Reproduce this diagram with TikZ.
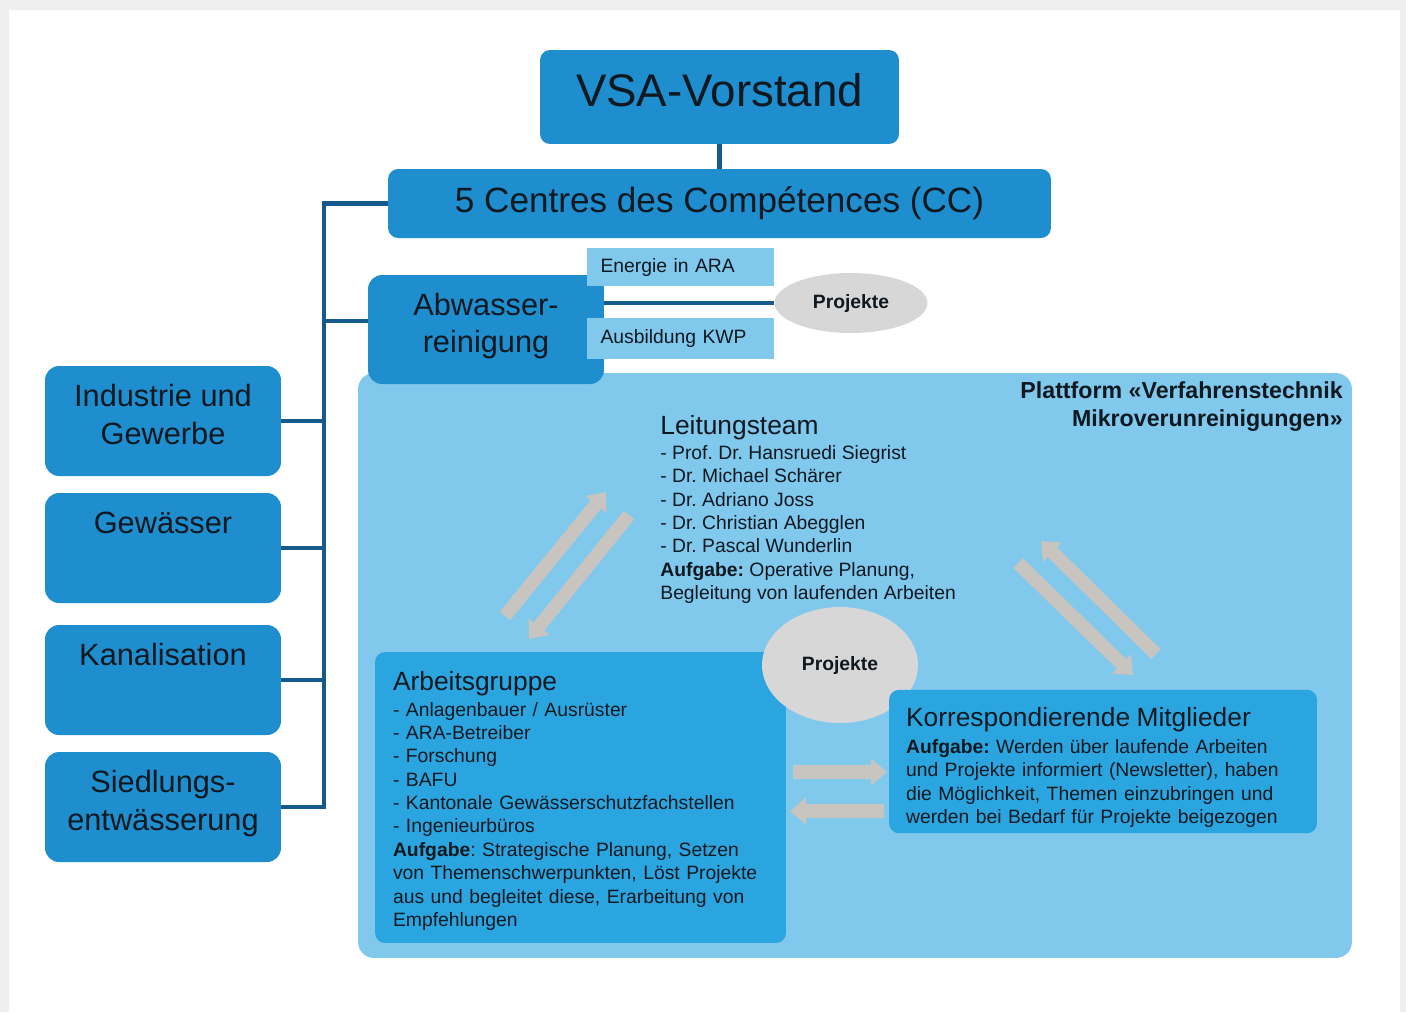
\documentclass[tikz,border=0pt]{standalone}
\usepackage{fontspec}
\setmainfont{Liberation Sans}
\usepackage{xcolor}
\usetikzlibrary{arrows.meta,positioning,shapes.geometric}
\frenchspacing

\definecolor{vsablue}{RGB}{31,142,207}
\definecolor{teamblue}{RGB}{42,165,223}
\definecolor{platblue}{RGB}{128,200,236}
\definecolor{linkblue}{RGB}{22,90,140}
\definecolor{projgray}{RGB}{215,215,215}
\definecolor{flowgray}{RGB}{200,196,192}
\definecolor{ink}{RGB}{16,24,32}
\definecolor{framegray}{RGB}{239,239,239}
\newcommand{\fsz}[2]{\fontsize{#1}{#2}\selectfont}

\begin{document}
\begin{tikzpicture}[
    x=0.02cm, y=-0.02cm,
    every node/.style={text=ink},
    topbox/.style={
      fill=vsablue, rounded corners=0.2cm, align=center
    },
    unit/.style={
      fill=vsablue, rounded corners=0.28cm, align=center,
      minimum width=4.72cm, minimum height=2.2cm, text depth=0.27cm,
      font=\fsz{17.5}{21.5}
    },
    subbox/.style={
      fill=platblue, minimum width=3.74cm, text width=3.2cm,
      inner xsep=0.27cm, align=left, font=\fsz{11}{13.3}
    },
    teambox/.style={
      fill=teamblue, rounded corners=0.2cm, align=left,
      font=\fsz{11}{13.3}
    },
    proj/.style={ellipse, fill=projgray, inner sep=0pt, font=\bfseries\fsz{11}{13.3}},
    link/.style={draw=linkblue, line width=2.8pt},
    flow/.style={draw=flowgray, line width=0.27cm,
      -{Triangle[width=0.52cm,length=0.32cm]}}
  ]
    % page
    \fill[framegray] (0,0) rectangle (1406,1012);
    \fill[white] (9,10) rectangle (1400,1012);

    \node[topbox, minimum width=7.18cm, minimum height=1.88cm,
      font=\fsz{26}{30}, text depth=0.28cm] (vsa) at (719.5,97) {VSA-Vorstand};
    \node[topbox, minimum width=13.26cm, minimum height=1.38cm,
      font=\fsz{20}{24}] (cc) at (719.5,203.5) {5 Centres des Compétences (CC)};

    \node[unit] (ind) at (163,421) {Industrie und\\Gewerbe};
    \node[unit] (gew) at (163,548) {Gewässer\\\phantom{G}};
    \node[unit] (kan) at (163,680) {Kanalisation\\\phantom{K}};
    \node[unit] (sied) at (163,807) {Siedlungs-\\entwässerung};

    % platform
    \node[fill=platblue, rounded corners=0.32cm, minimum width=19.88cm,
      minimum height=11.7cm, inner sep=0pt] (plat) at (855,665.5) {};
    \node[anchor=north east, align=right, inner sep=0pt,
      font=\bfseries\fsz{13.2}{16}] (title) at (1343,381)
      {Plattform «Verfahrenstechnik\\Mikroverunreinigungen»};

    \node[unit, minimum height=2.18cm] (abw) at (486,329.5) {Abwasser-\\reinigung};
    \node[subbox, minimum height=0.76cm] (ene) at (680.5,267) {Energie in ARA};
    \node[subbox, minimum height=0.82cm] (kwp) at (680.5,338.5) {Ausbildung KWP};
    \node[proj, minimum width=3.06cm, minimum height=1.2cm] (pa) at (851,303) {Projekte};

    \node[anchor=north west, align=left, inner sep=0pt, font=\fsz{11}{13.3}] (lead) at (660,415)
      {{\fsz{15}{18}Leitungsteam}\\[0.9pt]
       - Prof. Dr. Hansruedi Siegrist\\
       - Dr. Michael Schärer\\
       - Dr. Adriano Joss\\
       - Dr. Christian Abegglen\\
       - Dr. Pascal Wunderlin\\
       \textbf{Aufgabe:} Operative Planung,\\
       Begleitung von laufenden Arbeiten};

    \node[teambox, text width=7.5cm, inner xsep=0.36cm, minimum height=5.82cm] (ag) at (580.5,797.5)
      {{\fsz{15}{18}\rule{0pt}{14.5pt}Arbeitsgruppe}\\[1.5pt]
       - Anlagenbauer / Ausrüster\\
       - ARA-Betreiber\\
       - Forschung\\
       - BAFU\\
       - Kantonale Gewässerschutzfachstellen\\
       - Ingenieurbüros\\
       \textbf{Aufgabe}: Strategische Planung, Setzen\\
       von Themenschwerpunkten, Löst Projekte\\
       aus und begleitet diese, Erarbeitung von\\
       Empfehlungen};
    \node[proj, minimum width=3.12cm, minimum height=2.32cm] (pc) at (840,665) {Projekte};
    \node[teambox, text width=7.88cm, inner xsep=0.34cm, minimum height=2.86cm] (km) at (1103,761.5)
      {{\fsz{15}{18}\rule{0pt}{17.5pt}Korrespondierende Mitglieder}\\[2pt]
       \textbf{Aufgabe:} Werden über laufende Arbeiten\\
       und Projekte informiert (Newsletter), haben\\
       die Möglichkeit, Themen einzubringen und\\
       werden bei Bedarf für Projekte beigezogen};

    % organigram lines
    \coordinate (bus) at (324,0);
    \draw[link] (vsa) -- (cc);
    \draw[link] (cc.west) -| (sied.east -| bus) -- (sied.east);
    \draw[link] (ind.east) -- (ind.east -| bus);
    \draw[link] (gew.east) -- (gew.east -| bus);
    \draw[link] (kan.east) -- (kan.east -| bus);
    \draw[link] ([yshift=0.17cm]abw.west) -- ([yshift=0.17cm]abw.west -| bus);
    \draw[link] (pa.west) -- (pa.west -| abw.east);

    % exchange arrows
    \coordinate (ag-up) at (505,616);
    \coordinate (lt-in) at (606,492);
    \coordinate (lt-out) at (629,515);
    \coordinate (ag-in) at (529,639);
    \coordinate (km-up) at (1156,654);
    \coordinate (lt-in2) at (1041,541);
    \coordinate (lt-out2) at (1018,563);
    \coordinate (km-in) at (1133,675);
    \coordinate (ag-right) at (793,772);
    \coordinate (km-left) at (887,772);
    \coordinate (km-back) at (884,811);
    \coordinate (ag-left) at (790,811);
    \draw[flow] (ag-up) -- (lt-in);
    \draw[flow] (lt-out) -- (ag-in);
    \draw[flow] (km-up) -- (lt-in2);
    \draw[flow] (lt-out2) -- (km-in);
    \draw[flow] (ag-right) -- (km-left);
    \draw[flow] (km-back) -- (ag-left);
\end{tikzpicture}
\end{document}
